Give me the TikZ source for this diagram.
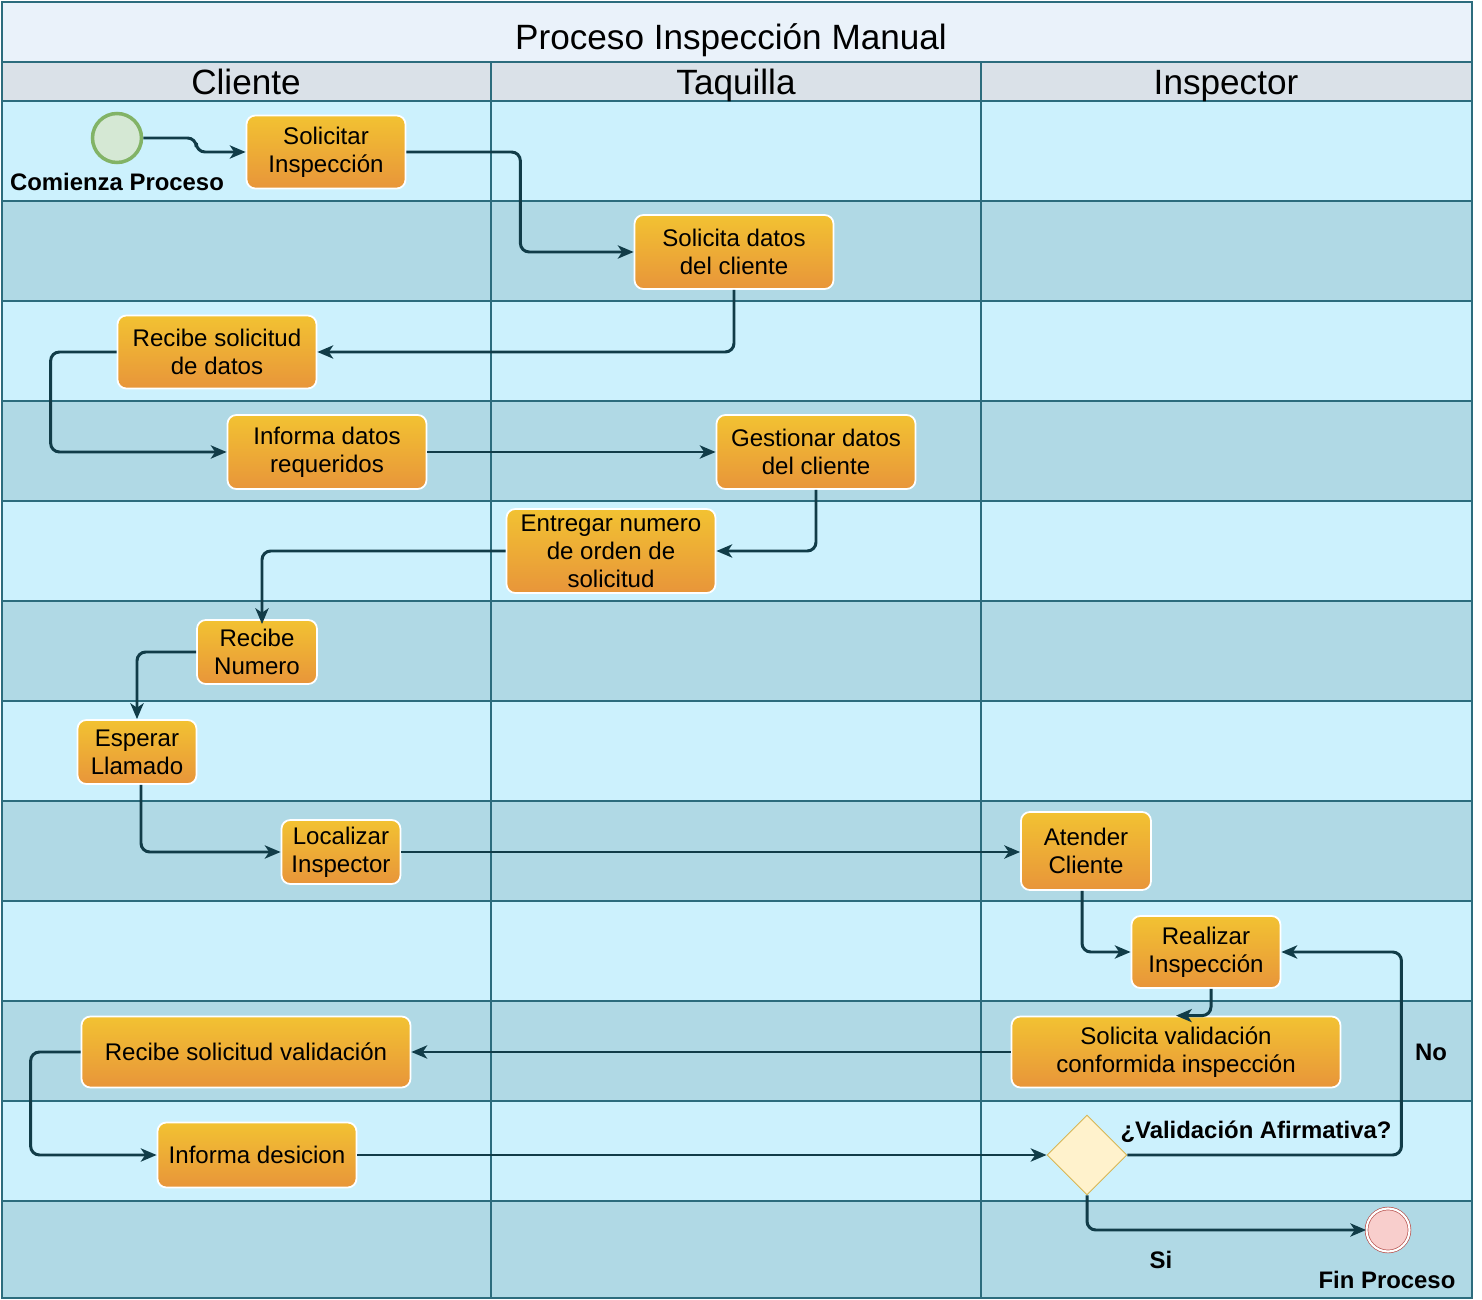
\documentclass[tikz,border=0pt]{standalone}
\usepackage{fontspec}
\setmainfont{Liberation Sans}
\usetikzlibrary{
  arrows.meta,
  shapes.geometric,
  positioning
}

\definecolor{titleBg}{HTML}{EAF2FA}
\definecolor{headBg}{HTML}{DAE1E8}
\definecolor{laneLight}{HTML}{CCF1FD}
\definecolor{laneDark}{HTML}{B0D9E5}
\definecolor{laneLine}{HTML}{2C6C7D}
\definecolor{flowLine}{HTML}{113C48}
\definecolor{taskTop}{HTML}{F2C232}
\definecolor{taskBottom}{HTML}{E8953A}

\begin{document}
\begin{tikzpicture}[x=0.02cm, y=-0.02cm,
    task/.style={rectangle, rounded corners=5pt, draw=white, line width=1pt,
      top color=taskTop, bottom color=taskBottom, align=center, inner sep=0pt,
      font=\fontsize{13.7}{16}\selectfont},
    flow/.style={draw=flowLine, line width=1.7pt, rounded corners=5pt,
      -{Stealth[length=9pt, width=7.5pt, inset=2.5pt]}},
    lbl/.style={font=\bfseries\fontsize{13.6}{15}\selectfont},
    head/.style={font=\fontsize{20}{24}\selectfont, anchor=base},
    lane/.style={draw=laneLine, line width=1.1pt}]
    \useasboundingbox (0,0) rectangle (1482,1300);

    % lanes
    \fill[titleBg] (2,2) rectangle (1472,62);
    \fill[headBg] (2,62) rectangle (1472,101);
    \foreach \i in {0,...,11} {
      \pgfmathsetmacro{\t}{101+100*\i}
      \pgfmathsetmacro{\b}{min(\t+100,1298)}
      \ifodd\i \def\c{laneDark}\else\def\c{laneLight}\fi
      \fill[\c] (2,\t) rectangle (1472,\b);
      \draw[lane] (2,\t) -- (1472,\t);
    }
    \draw[lane] (2,62) -- (1472,62);
    \draw[lane] (491,62) -- (491,1298);
    \draw[lane] (981,62) -- (981,1298);
    \draw[lane] (2,2) rectangle (1472,1298);

    \node[head] (title) at (731,50) {Proceso Inspección Manual};
    \node[head] (cliente) at (246,95) {Cliente};
    \node[head] (taquilla) at (736,95) {Taquilla};
    \node[head] (inspector) at (1226,95) {Inspector};

    % events
    \node[circle, draw={rgb,255:red,130;green,179;blue,102}, line width=2pt,
      fill={rgb,255:red,213;green,232;blue,212}, minimum size=0.98cm] (start) at (117,138) {};
    \node[lbl] (startLbl) at (117,182) {Comienza Proceso};
    \node[circle, double, double distance=1.2pt, draw={rgb,255:red,184;green,84;blue,80},
      fill={rgb,255:red,248;green,206;blue,204}, minimum size=0.86cm] (fin) at (1388,1230) {};
    \node[lbl] (finLbl) at (1387,1280) {Fin Proceso};

    % tasks
    \node[task, minimum width=3.18cm, minimum height=1.46cm] (t1) at (326,152) {Solicitar\\Inspección};
    \node[task, minimum width=3.98cm, minimum height=1.48cm] (t2) at (734,252) {Solicita datos\\del cliente};
    \node[task, minimum width=3.98cm, minimum height=1.46cm] (t3) at (217,352) {Recibe solicitud\\de datos};
    \node[task, minimum width=3.98cm, minimum height=1.48cm] (t4) at (327,452) {Informa datos\\requeridos};
    \node[task, minimum width=3.98cm, minimum height=1.48cm] (t5) at (816,452) {Gestionar datos\\del cliente};
    \node[task, minimum width=4.18cm, minimum height=1.68cm] (t6) at (611,551) {Entregar numero\\de orden de\\solicitud};
    \node[task, minimum width=2.40cm, minimum height=1.28cm] (t7) at (257,652) {Recibe\\Numero};
    \node[task, minimum width=2.38cm, minimum height=1.28cm] (t8) at (137,752) {Esperar\\Llamado};
    \node[task, minimum width=2.38cm, minimum height=1.28cm] (t9) at (341,852) {Localizar\\Inspector};
    \node[task, minimum width=2.60cm, minimum height=1.56cm] (t10) at (1086,851) {Atender\\Cliente};
    \node[task, minimum width=2.98cm, minimum height=1.44cm] (t11) at (1206,952) {Realizar\\Inspección};
    \node[task, minimum width=6.58cm, minimum height=1.42cm] (t12) at (1176,1052) {Solicita validación\\conformida inspección};
    \node[task, minimum width=6.58cm, minimum height=1.42cm] (t13) at (246,1052) {Recibe solicitud validación};
    \node[task, minimum width=3.98cm, minimum height=1.30cm] (t14) at (257,1155) {Informa desicion};

    % decision
    \node[diamond, draw={rgb,255:red,214;green,182;blue,86}, line width=0.5pt,
      fill={rgb,255:red,255;green,242;blue,204}, minimum size=1.6cm, inner sep=0pt] (dec) at (1087,1155) {};
    \node[lbl] (decLbl) at (1256,1132) {¿Validación Afirmativa?};

    % flows
    \draw[flow] (start.east) -- ++(53,0) |- (t1.west);
    \draw[flow] (t1.east) -- ++(114,0) |- (t2.west);
    \draw[flow] (t2.south) |- (t3.east);
    \draw[flow] (t3.west) -- ++(-66,0) |- (t4.west);
    \draw[flow] (t4.east) -- (t5.west);
    \draw[flow] (t5.south) |- (t6.east);
    \draw[flow] (t6.west) -| ([xshift=0.1cm, yshift=-0.1cm]t7.north);
    \draw[flow] (t7.west) -| (t8.north);
    \draw[flow] ([xshift=0.08cm]t8.south) |- (t9.west);
    \draw[flow] (t9.east) -- (t9.east -| t10.west);
    \draw[flow] ([xshift=-0.08cm]t10.south) |- (t11.west);
    \draw[flow] ([xshift=0.1cm]t11.south) |- (t12.north);
    \draw[flow] (t12.west) -- (t12.west -| t13.east);
    \draw[flow] (t13.west) -- ++(-50,0) |- (t14.west);
    \draw[flow] (t14.east) -- (dec.west);
    \draw[flow] (dec.east) -- ++(274,0) |- (t11.east);
    \draw[flow] (dec.south) |- (fin.west);
    \node[lbl] (noLbl) at (1431,1052) {No};
    \node[lbl] (siLbl) at (1161,1260) {Si};
\end{tikzpicture}
\end{document}
